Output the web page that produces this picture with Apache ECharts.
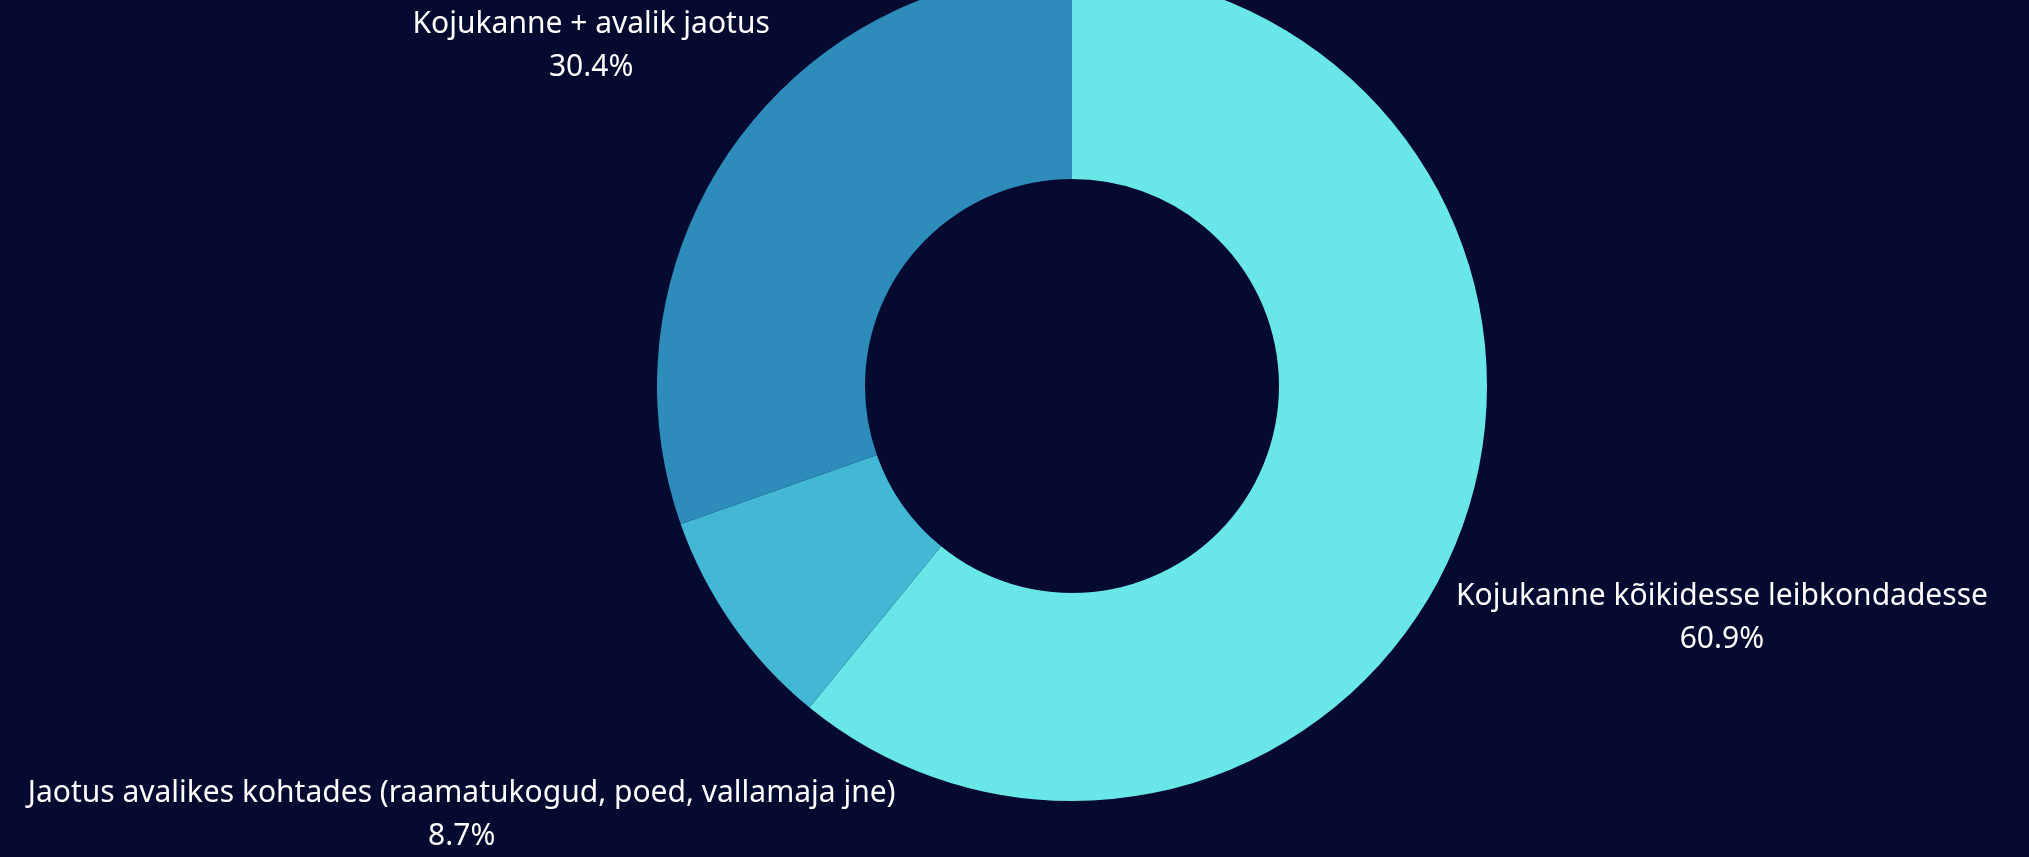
<!DOCTYPE html>
<html>
<head>
<meta charset="utf-8">
<script src="https://cdn.jsdelivr.net/npm/echarts@6/dist/echarts.min.js"></script>
<style>
html,body{margin:0;padding:0;background:#040a30;}
#chart{width:2029px;height:857px;}
</style>
</head>
<body>
<div id="chart"></div>
<script>
const categories = [
  'Kojukanne kõikidesse leibkondadesse',
  'Jaotus avalikes kohtades (raamatukogud, poed, vallamaja jne)',
  'Kojukanne + avalik jaotus'
];
const values = [60.9, 8.7, 30.4];
const colors = ['#69e6e8', '#42b8d5', '#2d8cba'];
const labelLineLengths = [275, 331, 174];

const chart = echarts.init(document.getElementById('chart'));
chart.setOption({
  backgroundColor: '#040a30',
  animation: false,
  series: [{
    type: 'pie',
    center: [1072, 386],
    radius: [207, 415],
    startAngle: 90,
    clockwise: true,
    avoidLabelOverlap: false,
    label: {
      show: true,
      position: 'outside',
      color: '#ffffff',
      fontFamily: 'Noto Sans',
      fontSize: 30,
      lineHeight: 43,
      distanceToLabelLine: 0,
      formatter: function (p) { return p.name + '\n' + p.value.toFixed(1) + '%'; }
    },
    labelLine: { show: false, length: 20, length2: 0 },
    labelLayout: function () { return { align: 'center', verticalAlign: 'middle' }; },
    data: categories.map(function (c, i) {
      return {
        name: c,
        value: values[i],
        itemStyle: { color: colors[i] },
        labelLine: { show: false, length: labelLineLengths[i], length2: 0 }
      };
    })
  }]
});
</script>
</body>
</html>
